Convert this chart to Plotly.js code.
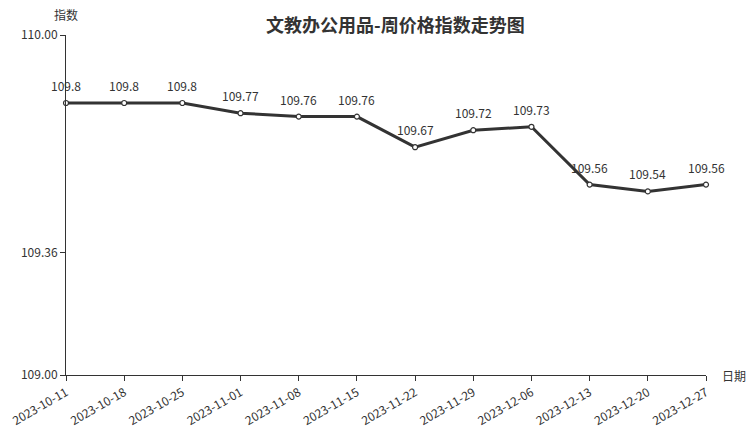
<!DOCTYPE html>
<html>
<head>
<meta charset="utf-8">
<script src="https://cdn.plot.ly/plotly-3.0.1.min.js"></script>
<style>html,body{margin:0;padding:0;background:#fff;}#chart{width:752px;height:426px;}</style>
</head>
<body>
<div id="chart"></div>
<script>
const dates = ["2023-10-11","2023-10-18","2023-10-25","2023-11-01","2023-11-08","2023-11-15","2023-11-22","2023-11-29","2023-12-06","2023-12-13","2023-12-20","2023-12-27"];
const values = [109.8,109.8,109.8,109.77,109.76,109.76,109.67,109.72,109.73,109.56,109.54,109.56];
const yTicks = [109.00, 109.36, 110.00];
const yTickLabels = ["109.00","109.36","110.00"];

const font = "'Noto Sans CJK SC', 'Noto Sans', sans-serif";
const trace = {
  x: dates, y: values, type: "scatter", mode: "lines+markers",
  line: {color: "#333", width: 3},
  marker: {size: 5, color: "#fff", line: {color: "#333", width: 1.2}},
  cliponaxis: false, hoverinfo: "x+y"
};
const valueLabels = dates.map((d, i) => ({
  x: d, y: values[i], xref: "x", yref: "y", text: String(values[i]),
  showarrow: false, yanchor: "bottom", yshift: 7,
  font: {family: font, size: 12, color: "#333"}
}));
const layout = {
  width: 752, height: 426,
  margin: {l: 66, r: 46, t: 35, b: 51},
  paper_bgcolor: "#fff", plot_bgcolor: "#fff",
  showlegend: false,
  font: {family: font, color: "#333", size: 12},
  xaxis: {type: "category", range: [0, dates.length - 1], showgrid: false, zeroline: false,
    showline: true, linecolor: "#333", linewidth: 1, ticks: "outside", ticklen: 5, tickcolor: "#333",
    tickangle: -30, tickfont: {family: font, size: 12, color: "#333"}},
  yaxis: {range: [109, 110], tickvals: yTicks, ticktext: yTickLabels, showgrid: false, zeroline: false,
    showline: true, linecolor: "#333", linewidth: 1, ticks: "outside", ticklen: 5, tickcolor: "#333",
    tickfont: {family: font, size: 12, color: "#333"}},
  annotations: [
    {text: "<b>文教办公用品-周价格指数走势图</b>", xref: "paper", yref: "paper", x: 0.515, y: 1, yshift: 11,
     xanchor: "center", yanchor: "middle", showarrow: false, font: {family: font, size: 18, color: "#333"}},
    {text: "指数", xref: "paper", yref: "paper", x: 0, y: 1, yshift: 21, xanchor: "center", yanchor: "middle",
     showarrow: false, font: {family: font, size: 12, color: "#333"}},
    {text: "日期", xref: "paper", yref: "paper", x: 1, y: 0, xshift: 14, xanchor: "left", yanchor: "middle",
     showarrow: false, font: {family: font, size: 12, color: "#333"}}
  ].concat(valueLabels)
};
Plotly.newPlot("chart", [trace], layout, {displayModeBar: false, staticPlot: true});
</script>
</body>
</html>
